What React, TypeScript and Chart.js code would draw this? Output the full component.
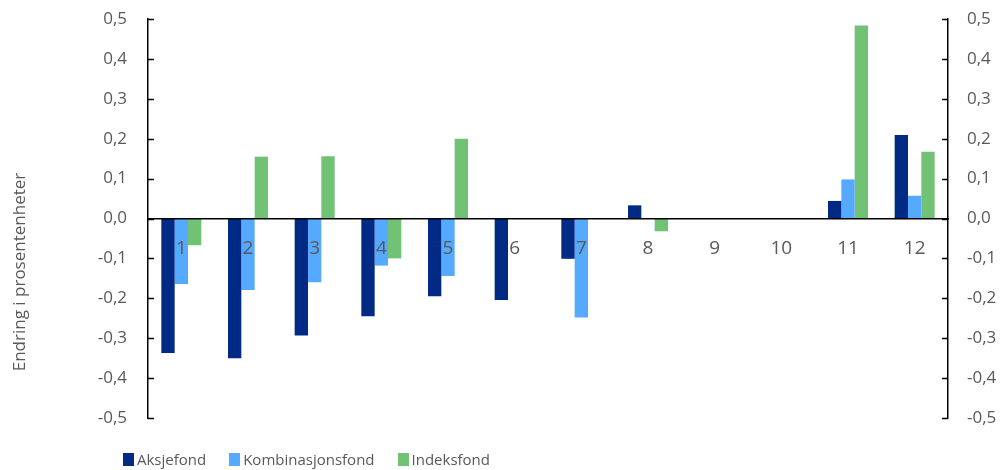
import React, { useEffect, useRef } from "react";
import { Chart, registerables } from "chart.js";

Chart.register(...registerables);

// Months / periods along the x axis
const categories = ["1", "2", "3", "4", "5", "6", "7", "8", "9", "10", "11", "12"];

// Change in percentage points per fund type
const aksjefond = [-0.337, -0.35, -0.293, -0.245, -0.195, -0.204, -0.101, 0.033, null, null, 0.044, 0.209];
const kombinasjonsfond = [-0.164, -0.179, -0.16, -0.118, -0.144, null, -0.248, null, null, null, 0.098, 0.057];
const indeksfond = [-0.067, 0.155, 0.156, -0.1, 0.2, null, null, -0.032, null, null, 0.484, 0.167];

const seriesNames = ["Aksjefond", "Kombinasjonsfond", "Indeksfond"];
const seriesColors = ["#002A84", "#55A9FF", "#72C276"];

const yMin = -0.5;
const yMax = 0.5;
const yStep = 0.1;
const yTitle = "Endring i prosentenheter";

const FONT = "'Open Sans', 'Noto Sans', sans-serif";
const TEXT = "#595959";

const formatTick = (v: number) => {
  const r = Math.abs(v) < 1e-9 ? 0 : v;
  return r.toFixed(1).replace(".", ",");
};

// Short tick marks pointing into the plot area on both value axes
const innerTicks = {
  id: "innerTicks",
  afterDraw(chart: any) {
    const ctx = chart.ctx;
    ctx.save();
    ctx.strokeStyle = "#000";
    ctx.lineWidth = 1.5;
    (["y", "y2"] as const).forEach((id) => {
      const s = chart.scales[id];
      const x = id === "y" ? s.right : s.left;
      const dir = id === "y" ? 1 : -1;
      s.ticks.forEach((t: any) => {
        const py = Math.round(s.getPixelForValue(t.value)) + 0.5;
        ctx.beginPath();
        ctx.moveTo(x, py);
        ctx.lineTo(x + dir * 6, py);
        ctx.stroke();
      });
    });
    ctx.restore();
  },
};

// Rotated value-axis title, placed at the far left
const sideTitle = {
  id: "sideTitle",
  afterDraw(chart: any) {
    const ctx = chart.ctx;
    ctx.save();
    ctx.translate(20, 272);
    ctx.rotate(-Math.PI / 2);
    ctx.font = `17px ${FONT}`;
    ctx.fillStyle = TEXT;
    ctx.textAlign = "center";
    ctx.textBaseline = "middle";
    ctx.fillText(yTitle, 0, 0);
    ctx.restore();
  },
};

const fitValueAxis = (width: number) => (s: any) => {
  s.width = width;
  s.paddingTop = 0;
  s.paddingBottom = 0;
};

export default function App() {
  const ref = useRef<HTMLCanvasElement | null>(null);

  useEffect(() => {
    if (!ref.current) return;
    const data = [aksjefond, kombinasjonsfond, indeksfond];
    const chart = new Chart(ref.current, {
      type: "bar",
      data: {
        labels: categories,
        datasets: data.map((d, i) => ({
          label: seriesNames[i],
          data: d,
          backgroundColor: seriesColors[i],
          borderWidth: 0,
          categoryPercentage: 0.6,
          barPercentage: 1.0,
          yAxisID: "y",
        })),
      },
      options: {
        animation: false,
        responsive: true,
        maintainAspectRatio: false,
        layout: { padding: { left: 0, right: 0, top: 19, bottom: 52 } },
        plugins: {
          legend: { display: false },
          tooltip: { enabled: false },
        },
        scales: {
          x: {
            position: { y: 0 } as any,
            grid: { display: false, drawTicks: false },
            border: { display: true, color: "#000", width: 1.5, z: 1 } as any,
            ticks: {
              z: 1,
              color: TEXT,
              font: { family: FONT, size: 19 },
              padding: 19,
              maxRotation: 0,
            },
            afterFit: (s: any) => {
              s.height = 0;
              s.paddingLeft = 0;
              s.paddingRight = 0;
            },
          },
          y: {
            position: "left",
            min: yMin,
            max: yMax,
            grid: { display: false, drawTicks: false },
            border: { display: true, color: "#000", width: 1.5 },
            ticks: {
              stepSize: yStep,
              color: TEXT,
              font: { family: FONT, size: 17 },
              padding: 21,
              callback: (v: any) => formatTick(Number(v)),
            },
            afterFit: fitValueAxis(148),
          },
          y2: {
            position: "right",
            min: yMin,
            max: yMax,
            grid: { display: false, drawTicks: false },
            border: { display: true, color: "#000", width: 1.5 },
            ticks: {
              stepSize: yStep,
              color: TEXT,
              font: { family: FONT, size: 17 },
              padding: 19,
              callback: (v: any) => formatTick(Number(v)),
            },
            afterFit: fitValueAxis(55),
          },
        },
      },
      plugins: [innerTicks, sideTitle],
    });
    return () => chart.destroy();
  }, []);

  return (
    <div style={{ position: "absolute", left: 0, top: 0, width: 1003, height: 470, background: "#fff" }}>
      <canvas ref={ref} />
      <div
        style={{
          position: "absolute",
          left: 123,
          top: 449,
          display: "flex",
          gap: 23,
          fontFamily: FONT,
          fontSize: 15,
          color: TEXT,
          lineHeight: "20px",
          whiteSpace: "nowrap",
        }}
      >
        {seriesNames.map((n, i) => (
          <div key={n} style={{ display: "flex", alignItems: "center" }}>
            <span style={{ display: "inline-block", width: 11, height: 13, background: seriesColors[i], marginRight: 3 }} />
            <span>{n}</span>
          </div>
        ))}
      </div>
    </div>
  );
}
